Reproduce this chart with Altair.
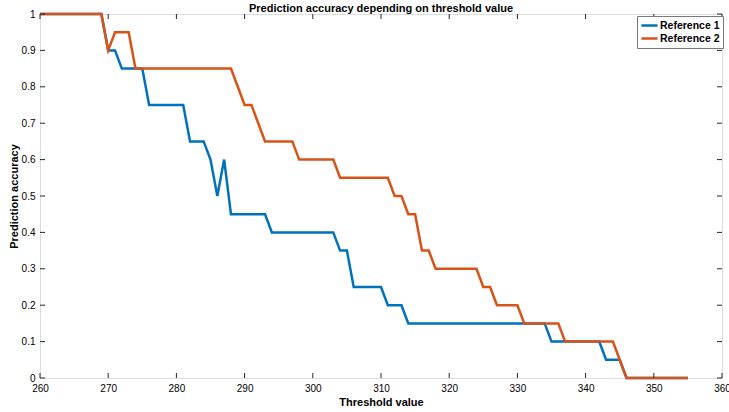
import altair as alt
import pandas as pd

# Threshold values (integer steps) and accuracy of each reference
thresholds = list(range(260, 356))

ref1 = (
    [1.0] * 10            # 260-269
    + [0.9] * 2           # 270-271
    + [0.85] * 4          # 272-275
    + [0.75] * 6          # 276-281
    + [0.65] * 3          # 282-284
    + [0.6, 0.5, 0.6]     # 285-287
    + [0.45] * 6          # 288-293
    + [0.4] * 10          # 294-303
    + [0.35] * 2          # 304-305
    + [0.25] * 5          # 306-310
    + [0.2] * 3           # 311-313
    + [0.15] * 21         # 314-334
    + [0.1] * 8           # 335-342
    + [0.05] * 3          # 343-345
    + [0.0] * 10          # 346-355
)

ref2 = (
    [1.0] * 10            # 260-269
    + [0.9]               # 270
    + [0.95] * 3          # 271-273
    + [0.85] * 15         # 274-288
    + [0.8]               # 289
    + [0.75] * 2          # 290-291
    + [0.7]               # 292
    + [0.65] * 5          # 293-297
    + [0.6] * 6           # 298-303
    + [0.55] * 8          # 304-311
    + [0.5] * 2           # 312-313
    + [0.45] * 2          # 314-315
    + [0.35] * 2          # 316-317
    + [0.3] * 7           # 318-324
    + [0.25] * 2          # 325-326
    + [0.2] * 4           # 327-330
    + [0.15] * 6          # 331-336
    + [0.1] * 8           # 337-344
    + [0.05]              # 345
    + [0.0] * 10          # 346-355
)

series_names = ["Reference 1", "Reference 2"]
series_colors = ["#0072BD", "#D95319"]

x_ticks = list(range(260, 361, 10))
y_ticks = [round(i * 0.1, 1) for i in range(11)]

W, H = 682, 364
TICK = 5
AXIS_COLOR = "#262626"
LABEL_COLOR = "#4d4d4d"
FONT = "Liberation Sans"

df = pd.DataFrame({
    "threshold": thresholds * 2,
    "accuracy": ref1 + ref2,
    "series": [series_names[0]] * len(thresholds) + [series_names[1]] * len(thresholds),
})
xt = pd.DataFrame({"t": x_ticks})
yt = pd.DataFrame({"v": y_ticks})

x_scale = alt.Scale(domain=[260, 360], nice=False, zero=False)
y_scale = alt.Scale(domain=[0, 1], nice=False, zero=False)

x_axis = alt.Axis(values=x_ticks, title="Threshold value", grid=False, domain=False,
                  ticks=False, labelPadding=5, titlePadding=3, format="d",
                  labelOverlap=False, labelFlush=False)
y_axis = alt.Axis(values=y_ticks, title="Prediction accuracy", grid=False, domain=False,
                  ticks=False, labelPadding=5, titlePadding=2, format="~g",
                  labelOverlap=False, labelFlush=False)

lines = alt.Chart(df).mark_line(strokeWidth=2.5, strokeJoin="miter").encode(
    x=alt.X("threshold:Q", scale=x_scale, axis=x_axis),
    y=alt.Y("accuracy:Q", scale=y_scale, axis=y_axis),
    color=alt.Color(
        "series:N",
        scale=alt.Scale(domain=series_names, range=series_colors),
        legend=alt.Legend(
            title=None, orient="none", legendX=W - 85, legendY=2,
            symbolType="stroke", symbolSize=260, symbolStrokeWidth=2.5,
            labelFont=FONT, labelFontSize=10.5, labelFontWeight="bold", labelColor="#000000",
            strokeColor="#7a7a7a", fillColor="#ffffff", padding=3, rowPadding=0,
            clipHeight=13, symbolOffset=0, labelOffset=1,
        ),
    ),
)

# Inward tick marks on all four sides of the box (same axis definition on every layer)
bottom_ticks = alt.Chart(xt).mark_rule(color=AXIS_COLOR, strokeWidth=1).encode(
    x=alt.X("t:Q", scale=x_scale, axis=x_axis), y=alt.value(H), y2=alt.value(H - TICK))
top_ticks = alt.Chart(xt).mark_rule(color=AXIS_COLOR, strokeWidth=1).encode(
    x=alt.X("t:Q", scale=x_scale, axis=x_axis), y=alt.value(0), y2=alt.value(TICK))
left_ticks = alt.Chart(yt).mark_rule(color=AXIS_COLOR, strokeWidth=1).encode(
    y=alt.Y("v:Q", scale=y_scale, axis=y_axis), x=alt.value(0), x2=alt.value(TICK))
right_ticks = alt.Chart(yt).mark_rule(color=AXIS_COLOR, strokeWidth=1).encode(
    y=alt.Y("v:Q", scale=y_scale, axis=y_axis), x=alt.value(W), x2=alt.value(W - TICK))

chart = alt.layer(lines, bottom_ticks, top_ticks, left_ticks, right_ticks).properties(
    width=W,
    height=H,
    title=alt.TitleParams("Prediction accuracy depending on threshold value",
                          font=FONT, fontSize=11, fontWeight="bold", color="#000000",
                          offset=3, anchor="middle", dy=8),
    autosize=alt.AutoSizeParams(type="none"),
    padding={"left": 40, "top": 14, "right": 7, "bottom": 34},
).configure_view(
    stroke=AXIS_COLOR, strokeWidth=1
).configure_axis(
    labelFont=FONT, labelFontSize=10, labelColor=LABEL_COLOR,
    titleFont=FONT, titleFontSize=10.5, titleFontWeight="bold", titleColor="#262626",
).configure(background="#ffffff")

chart.save("out.html", embed_options={"renderer": "svg", "actions": False})
